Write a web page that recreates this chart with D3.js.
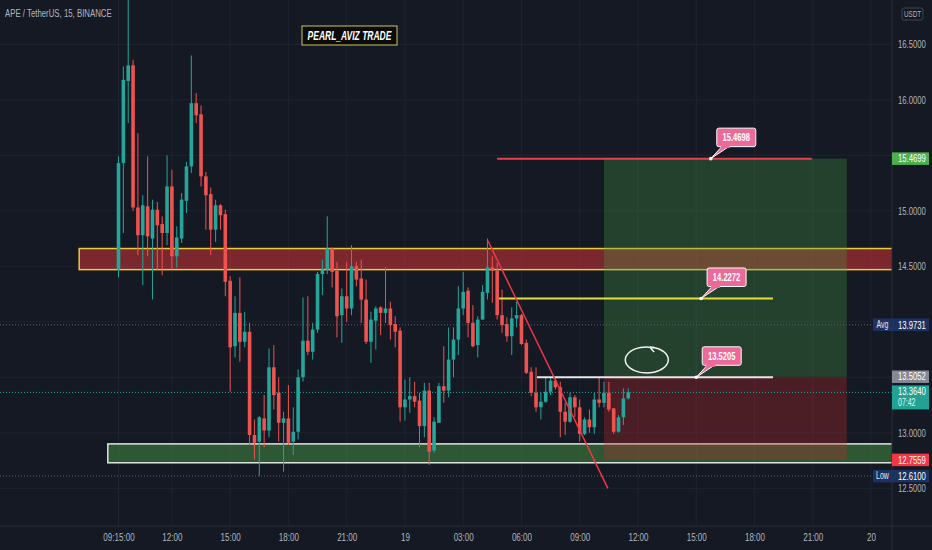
<!DOCTYPE html>
<html>
<head>
  <meta charset="UTF-8">
  <title>APE / TetherUS, 15, BINANCE</title>
  <script src="https://d3js.org/d3.v7.min.js"></script>
  <style>
    body {
      margin: 0;
      padding: 0;
      background: #151924;
    }
    svg {
      display: block;
    }
    text {
      font-family: "Liberation Sans", Arial, sans-serif;
    }
  </style>
</head>
<body>

<script>
  const width = 932;
  const height = 550;
  const plotRight = 892;
  const axisTop = 526;
  const squeezeK = 0.7;   // screenshot text is narrow

  // 15m candles, first bar 18th 09:15
  const opens = [14.47,15.43,16.17,16.31,15.03,14.78,15.04,14.75,15.01,14.88,
    14.80,15.22,14.59,14.75,15.09,15.40,15.97,15.87,15.31,15.15,
    14.83,15.05,14.97,14.37,13.78,14.08,13.82,13.91,12.98,12.92,
    13.13,13.02,13.59,13.36,13.09,13.13,12.92,13.01,13.50,13.83,
    13.73,13.93,14.43,14.47,14.66,14.46,14.06,14.23,14.12,14.50,
    14.39,14.20,13.82,14.01,14.13,14.08,14.12,13.98,13.92,13.23,
    13.30,13.33,13.29,13.06,13.38,12.84,13.09,13.42,13.38,13.66,
    13.84,14.12,14.28,13.99,13.79,14.02,14.26,14.49,14.46,14.06,
    13.98,13.87,14.03,14.06,13.81,13.55,13.36,13.23,13.28,13.37,
    13.47,13.41,13.19,13.10,13.32,13.23,12.99,13.12,13.05,13.30,
    13.27,13.36,13.22,13.01,13.14,13.31];
  const highs = [15.49,16.30,16.95,16.36,15.70,15.14,15.49,15.10,15.08,14.95,
    15.50,15.37,14.86,15.16,15.44,16.40,16.06,15.95,15.35,15.21,
    15.10,15.06,15.01,14.41,14.23,14.40,14.09,13.99,13.12,13.15,
    13.34,13.76,13.79,13.50,13.19,13.43,13.23,13.57,14.22,14.23,
    13.99,14.45,14.56,14.95,14.67,14.54,14.30,14.54,14.69,14.54,
    14.56,14.38,14.09,14.14,14.14,14.49,14.18,14.05,13.95,13.48,
    13.50,13.46,13.36,13.45,13.45,13.14,13.45,13.78,13.95,13.95,
    14.32,14.45,14.31,14.15,14.05,14.33,14.75,14.59,14.53,14.29,
    14.04,14.13,14.18,14.07,13.84,13.59,13.59,13.36,13.50,13.50,
    13.50,13.46,13.27,13.36,13.34,13.30,13.14,13.21,13.36,13.50,
    13.46,13.46,13.22,13.16,13.40,13.40];
  const lows = [14.40,14.80,15.79,15.00,14.60,14.33,14.59,14.20,14.47,14.42,
    14.69,14.47,14.49,14.71,14.98,15.34,15.79,15.22,14.83,14.60,
    14.72,14.83,14.23,13.37,13.68,13.64,13.77,12.89,12.76,12.61,
    12.87,12.96,13.21,12.92,12.65,12.89,12.80,12.94,13.46,13.70,
    13.66,13.90,14.24,14.43,14.31,13.86,13.81,14.00,14.06,14.32,
    13.99,13.80,13.63,13.75,13.88,13.99,13.84,13.77,13.10,13.11,
    13.18,13.23,12.87,12.96,12.71,12.82,13.09,13.27,13.32,13.50,
    13.70,14.06,13.86,13.77,13.68,14.02,14.20,14.17,14.02,13.90,
    13.82,13.70,13.95,13.79,13.53,13.33,13.19,13.12,13.27,13.34,
    13.39,12.96,12.98,13.09,13.14,12.92,12.98,13.00,12.99,13.23,
    13.23,13.19,12.99,13.00,13.07,13.30];
  const closes = [15.43,16.18,16.31,15.03,14.78,15.05,14.77,15.01,14.87,14.80,
    15.22,14.59,14.76,15.10,15.40,15.97,15.86,15.31,15.14,14.83,
    15.05,14.96,14.36,13.77,14.08,13.82,13.91,12.98,12.91,13.14,
    13.02,13.59,13.34,13.09,13.13,12.91,13.01,13.50,13.83,13.73,
    13.93,14.43,14.47,14.66,14.45,14.05,14.23,14.12,14.50,14.38,
    14.20,13.82,14.02,14.12,14.08,14.12,13.97,13.91,13.23,13.30,
    13.33,13.28,13.06,13.38,12.83,13.10,13.42,13.38,13.66,13.84,
    14.12,14.27,13.99,13.78,14.02,14.27,14.49,14.46,14.06,13.97,
    13.87,14.03,14.06,13.80,13.54,13.36,13.23,13.28,13.37,13.47,
    13.41,13.19,13.10,13.32,13.23,12.99,13.12,13.05,13.30,13.27,
    13.36,13.21,13.01,13.14,13.31,13.364];

  const firstBar = new Date(2022, 2, 18, 9, 15);
  const barMs = 15 * 60 * 1000;
  const barTime = i => new Date(+firstBar + i * barMs);

  const timeTickBars = [0, 11, 23, 35, 47, 59, 71, 83, 95, 107, 119, 131, 143, 155];
  const timeTickLabels = ["09:15:00", "12:00", "15:00", "18:00", "21:00", "19", "03:00",
    "06:00", "09:00", "12:00", "15:00", "18:00", "21:00", "20"];
  const priceTicks = [16.5, 16, 15, 14.5, 13, 12.5];
  const gridPrices = [16.5, 16, 15.5, 15, 14.5, 14, 13.5, 13, 12.5];

  // drawings (bar index, price)
  const resistanceZone = { startBar: -8.1, low: 14.47, high: 14.66 };
  const supportZone = { startBar: -2.2, low: 12.73, high: 12.90 };
  const position = { startBar: 100, endBar: 150, entry: 13.5052, target: 15.4699, stop: 12.7559 };
  const trendLine = [[76.1, 14.73], [100.8, 12.50]];
  const hLines = [
    { from: 78.0, to: 142.8, price: 15.4698, color: "#e8414f" },
    { from: 78.4, to: 134.8, price: 14.21, color: "#e4e03a" },
    { from: 86.2, to: 134.8, price: 13.50, color: "#e8e8e8" }
  ];
  const callouts = [
    { bar: 122, price: 15.4698, text: "15.4698" },
    { bar: 120, price: 14.21, text: "14.2272" },
    { bar: 119, price: 13.50, text: "13.5205" }
  ];
  const circleMark = { bar0: 104.5, bar1: 113.2, high: 13.77, low: 13.535 };

  const avgPrice = 13.9731;
  const lowPrice = 12.61;
  const lastPrice = 13.364;
  const countdown = "07:42";

  const x = d3.scaleTime()
    .domain([firstBar, barTime(155)])
    .range([118.5, 871]);
  const y = d3.scaleLinear()
    .domain([12.5, 16.5])
    .range([488.3, 44.3]);
  const xb = b => x(barTime(b));

  // narrow the glyphs around each text's own x
  function squeeze(sel, k) {
    sel.each(function() {
      const t = d3.select(this);
      const x0 = +t.attr("x") || 0;
      t.attr("transform", `translate(${x0 * (1 - k)},0) scale(${k},1)`);
    });
    return sel;
  }

  const svg = d3.select("body")
    .append("svg")
    .attr("width", width)
    .attr("height", height);

  svg.append("rect").attr("width", width).attr("height", height).attr("fill", "#151924");

  svg.append("defs").append("clipPath").attr("id", "plot")
    .append("rect").attr("width", plotRight).attr("height", axisTop);

  const plot = svg.append("g").attr("clip-path", "url(#plot)");

  // grid
  plot.selectAll(".hgrid").data(gridPrices).join("line")
    .attr("x1", 0).attr("x2", plotRight)
    .attr("y1", d => y(d)).attr("y2", d => y(d))
    .attr("stroke", "#1f2331");
  plot.selectAll(".vgrid").data(timeTickBars).join("line")
    .attr("x1", d => xb(d)).attr("x2", d => xb(d))
    .attr("y1", 0).attr("y2", axisTop)
    .attr("stroke", "#1f2331");

  // zones
  function zone(z, fill, stroke) {
    plot.append("rect")
      .attr("x", xb(z.startBar)).attr("y", y(z.high))
      .attr("width", xb(170) - xb(z.startBar)).attr("height", y(z.low) - y(z.high))
      .attr("fill", fill).attr("stroke", stroke).attr("stroke-width", 1.5);
  }
  zone(resistanceZone, "rgba(205,52,52,0.55)", "#e9cc3c");
  zone(supportZone, "rgba(71,150,68,0.5)", "#dfe6df");

  // long position tool
  plot.append("rect")
    .attr("x", xb(position.startBar)).attr("y", y(position.target))
    .attr("width", xb(position.endBar) - xb(position.startBar))
    .attr("height", y(position.entry) - y(position.target))
    .attr("fill", "rgba(74,158,69,0.3)");
  plot.append("rect")
    .attr("x", xb(position.startBar)).attr("y", y(position.entry))
    .attr("width", xb(position.endBar) - xb(position.startBar))
    .attr("height", y(position.stop) - y(position.entry))
    .attr("fill", "rgba(201,42,43,0.3)");

  // dotted price lines
  [[avgPrice, "#5d6170"], [lastPrice, "#26a69a"], [lowPrice, "#5d6170"]].forEach(([p, c]) => {
    plot.append("line")
      .attr("x1", 0).attr("x2", plotRight)
      .attr("y1", y(p)).attr("y2", y(p))
      .attr("stroke", c).attr("stroke-dasharray", "1,2");
  });

  // candles
  const candles = plot.selectAll(".candle").data(opens.map((o, i) => i)).join("g");
  const bodyW = 3.6;
  candles.append("line")
    .attr("x1", i => xb(i)).attr("x2", i => xb(i))
    .attr("y1", i => y(highs[i])).attr("y2", i => y(lows[i]))
    .attr("stroke", i => closes[i] >= opens[i] ? "#26a69a" : "#ef5350")
    .attr("stroke-width", 1);
  candles.append("rect")
    .attr("x", i => xb(i) - bodyW / 2)
    .attr("y", i => y(Math.max(opens[i], closes[i])))
    .attr("width", bodyW)
    .attr("height", i => Math.max(1, Math.abs(y(opens[i]) - y(closes[i]))))
    .attr("fill", i => closes[i] >= opens[i] ? "#26a69a" : "#ef5350");

  // horizontal drawings
  plot.selectAll(".hline").data(hLines).join("line")
    .attr("x1", d => xb(d.from)).attr("x2", d => xb(d.to))
    .attr("y1", d => y(d.price)).attr("y2", d => y(d.price))
    .attr("stroke", d => d.color).attr("stroke-width", 2);

  // trend line
  plot.append("path")
    .attr("d", d3.line().x(d => xb(d[0])).y(d => y(d[1]))(trendLine))
    .attr("stroke", "#f23645").attr("stroke-width", 1.5).attr("fill", "none");

  // hand drawn circle
  const cx = (xb(circleMark.bar0) + xb(circleMark.bar1)) / 2;
  const cy = (y(circleMark.high) + y(circleMark.low)) / 2;
  const rx = (xb(circleMark.bar1) - xb(circleMark.bar0)) / 2;
  const ry = (y(circleMark.low) - y(circleMark.high)) / 2;
  const loop = d3.range(0, 26).map(k => {
    const a = -Math.PI / 2 + 0.35 - k * (2 * Math.PI + 0.2) / 25;
    const r = 1 + 0.04 * Math.sin(k / 3);
    return [cx + rx * r * Math.cos(a), cy + ry * r * Math.sin(a)];
  });
  loop.push([loop[25][0] + 4, loop[25][1] + 5]);
  plot.append("path")
    .attr("d", d3.line().curve(d3.curveCatmullRom)(loop))
    .attr("stroke", "#f2f2f2").attr("stroke-width", 1.5).attr("fill", "none");

  // callouts
  callouts.forEach(c => {
    const ax = xb(c.bar), ay = y(c.price);
    const bx = ax + 6, by = ay - 30.5, bw = 39, bh = 18.5;
    const g = plot.append("g");
    g.append("path")
      .attr("d", `M${ax},${ay}L${bx + 5},${by + bh}L${bx + 12},${by + bh}Z`)
      .attr("fill", "#ec6a9a").attr("stroke", "#ffffff").attr("stroke-width", 1);
    g.append("rect")
      .attr("x", bx).attr("y", by).attr("width", bw).attr("height", bh).attr("rx", 2)
      .attr("fill", "#ec6a9a").attr("stroke", "#ffffff").attr("stroke-width", 1);
    g.append("rect")
      .attr("x", bx + 4).attr("y", by + bh - 1.5).attr("width", 9).attr("height", 3)
      .attr("fill", "#ec6a9a");
    g.append("circle").attr("cx", ax).attr("cy", ay).attr("r", 1.8).attr("fill", "#ffffff");
    g.append("text")
      .attr("x", bx + bw / 2).attr("y", by + bh / 2 + 3.5)
      .attr("text-anchor", "middle")
      .attr("fill", "#ffffff").attr("font-size", 10).attr("font-weight", "bold")
      .text(c.text)
      .call(squeeze, 0.76);
  });

  // axes
  svg.append("line").attr("x1", 0).attr("x2", width).attr("y1", axisTop).attr("y2", axisTop)
    .attr("stroke", "#2a2e39");
  svg.append("line").attr("x1", plotRight).attr("x2", plotRight).attr("y1", 0).attr("y2", height)
    .attr("stroke", "#2a2e39");

  const xAxis = svg.append("g")
    .attr("transform", `translate(0,${axisTop})`)
    .call(d3.axisBottom(x)
      .tickValues(timeTickBars.map(barTime))
      .tickFormat((d, i) => timeTickLabels[i])
      .tickSize(0).tickPadding(7));
  xAxis.select(".domain").remove();
  xAxis.selectAll("text").attr("fill", "#b2b5be").attr("font-size", 11.5)
    .call(squeeze, squeezeK);

  const yAxis = svg.append("g")
    .attr("transform", `translate(${plotRight},0)`)
    .call(d3.axisRight(y)
      .tickValues(priceTicks)
      .tickFormat(d3.format(".4f"))
      .tickSize(0).tickPadding(6));
  yAxis.select(".domain").remove();
  yAxis.selectAll("text").attr("fill", "#b2b5be").attr("font-size", 11)
    .call(squeeze, squeezeK);

  // price badges
  const badges = [
    { price: position.target, text: "15.4699", fill: "#4caf50" },
    { price: avgPrice, text: "13.9731", fill: "#1c3261", tag: "Avg" },
    { price: position.entry, text: "13.5052", fill: "#868993" },
    { price: lastPrice, text: "13.3640", fill: "#22a294", sub: countdown },
    { price: position.stop, text: "12.7559", fill: "#f23645" },
    { price: lowPrice, text: "12.6100", fill: "#1c3261", tag: "Low" }
  ];
  badges.forEach(b => {
    const by = y(b.price);
    const h = b.sub ? 24 : 12.5;
    const top = b.sub ? by - 7 : by - h / 2;
    if (b.tag) {
      svg.append("rect").attr("x", 873).attr("y", top).attr("width", 19).attr("height", h)
        .attr("fill", b.fill);
      svg.append("text").attr("x", 882.5).attr("y", top + 9.5).attr("text-anchor", "middle")
        .attr("fill", "#e8e9ec").attr("font-size", 10).text(b.tag)
        .call(squeeze, squeezeK);
    }
    svg.append("rect").attr("x", plotRight).attr("y", top).attr("width", 37).attr("height", h)
      .attr("fill", b.fill);
    svg.append("text").attr("x", 898).attr("y", top + 10)
      .attr("fill", "#ffffff").attr("font-size", 11).text(b.text)
      .call(squeeze, squeezeK);
    if (b.sub) {
      svg.append("text").attr("x", 898).attr("y", top + 21)
        .attr("fill", "#e6f5f2").attr("font-size", 10).text(b.sub)
        .call(squeeze, squeezeK);
    }
  });

  // unit badge
  svg.append("rect").attr("x", 902).attr("y", 8).attr("width", 21).attr("height", 12).attr("rx", 2)
    .attr("fill", "none").attr("stroke", "#434651");
  svg.append("text").attr("x", 912.5).attr("y", 17).attr("text-anchor", "middle")
    .attr("fill", "#b2b5be").attr("font-size", 9).text("USDT")
    .call(squeeze, squeezeK);

  // titles
  svg.append("text").attr("x", 5).attr("y", 17.5)
    .attr("fill", "#b2b5be").attr("font-size", 11.5)
    .text("APE / TetherUS, 15, BINANCE")
    .call(squeeze, 0.68);

  svg.append("rect").attr("x", 302).attr("y", 26).attr("width", 95).attr("height", 19)
    .attr("fill", "#0b0b0b").attr("stroke", "#c9c85a").attr("stroke-width", 1);
  svg.append("text").attr("x", 349.5).attr("y", 40).attr("text-anchor", "middle")
    .attr("fill", "#ffffff").attr("font-size", 12.5).attr("font-weight", "bold")
    .attr("font-style", "italic")
    .text("PEARL_AVIZ TRADE")
    .call(squeeze, 0.68);
</script>

</body>
</html>
